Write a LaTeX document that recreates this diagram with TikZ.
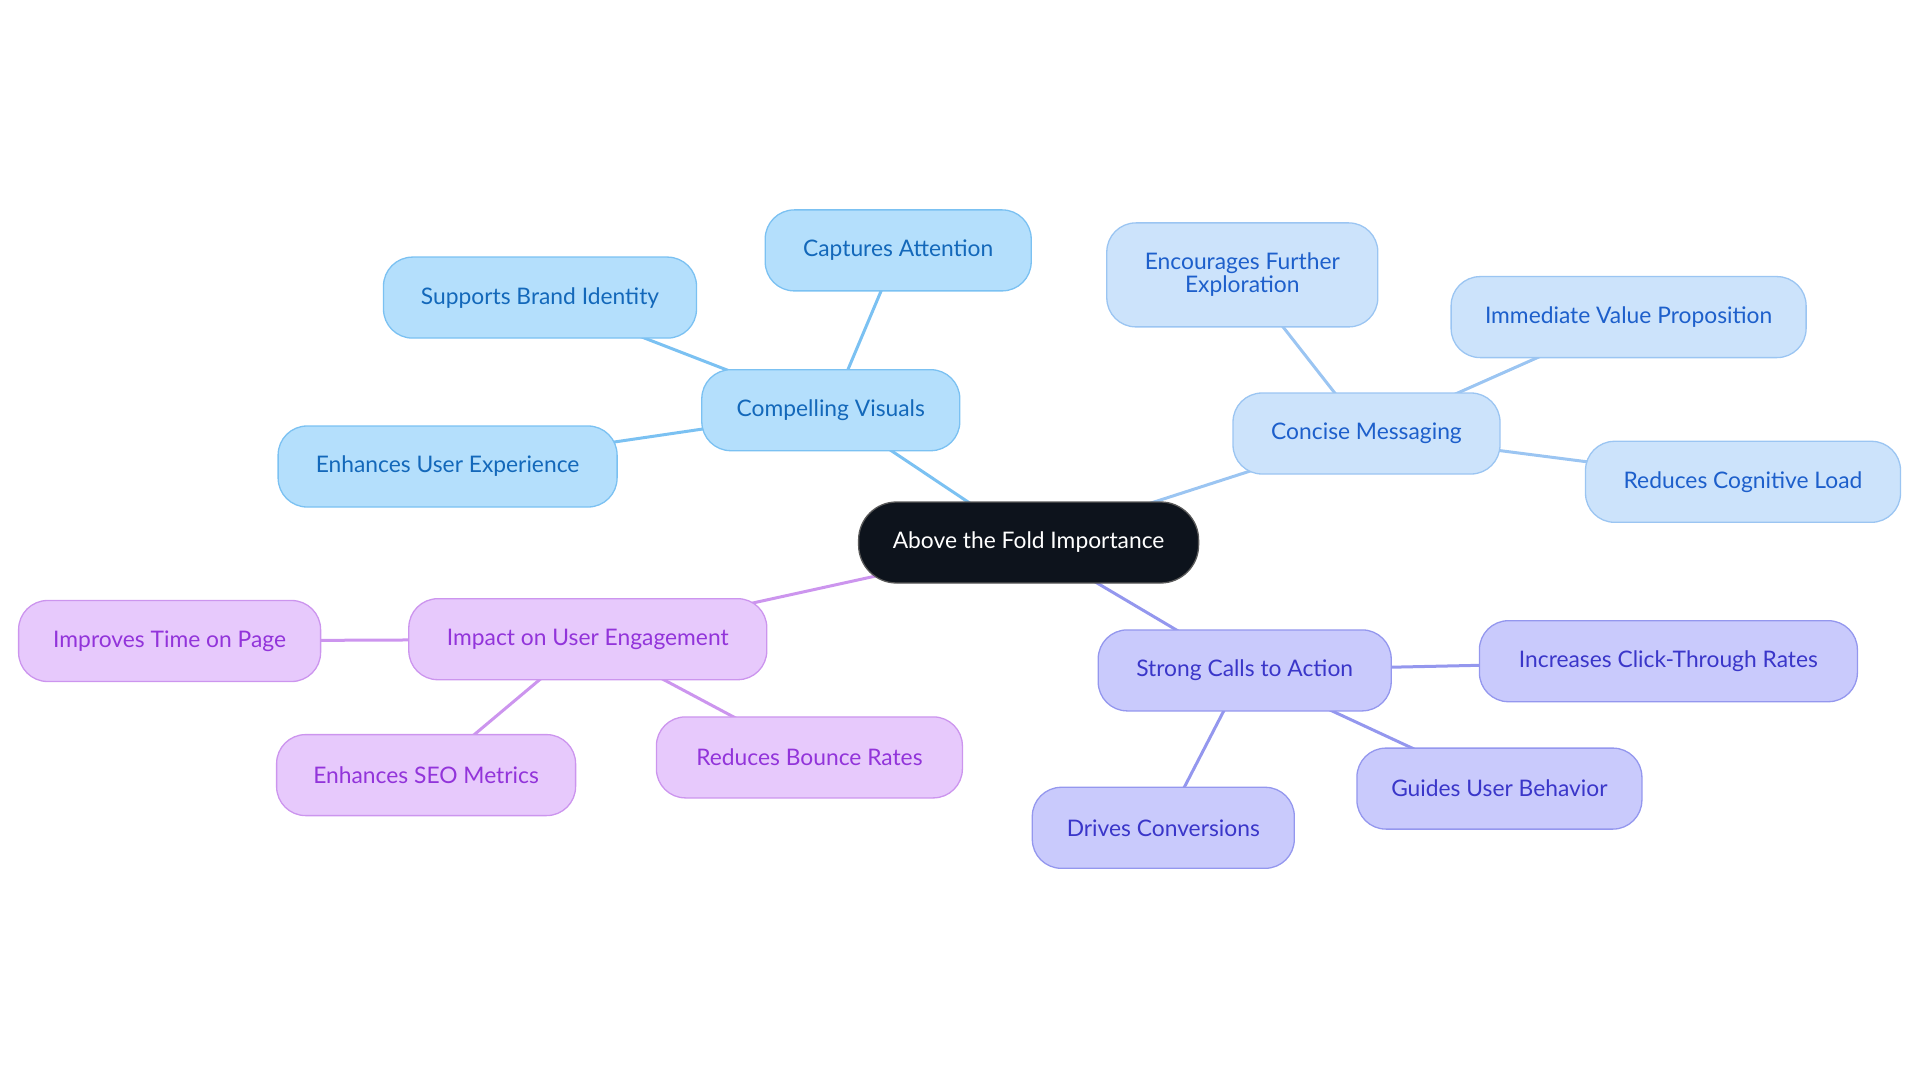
\documentclass[tikz,border=0pt]{standalone}
\usepackage{fontspec}
\setmainfont{Lato}
\usetikzlibrary{backgrounds}
\definecolor{cfill}{HTML}{0D131C}
\definecolor{bfill}{HTML}{B4DFFC}\definecolor{bdraw}{HTML}{7BC1F2}\definecolor{btext}{HTML}{1368BA}
\definecolor{mfill}{HTML}{CCE3FB}\definecolor{mdraw}{HTML}{9BC5F2}\definecolor{mtext}{HTML}{1D5FCB}
\definecolor{sfill}{HTML}{C9CAFC}\definecolor{sdraw}{HTML}{9497EE}\definecolor{stext}{HTML}{3A36C9}
\definecolor{ifill}{HTML}{E7C9FC}\definecolor{idraw}{HTML}{CC95EE}\definecolor{itext}{HTML}{9234DA}
\tikzset{
  base/.style={rounded corners=29pt, minimum height=81pt, inner sep=0pt, line width=1.3pt, align=center, font=\fontsize{22.8}{24}\selectfont},
  rootbox/.style={base, fill=cfill, draw=gray!70!black, text=white, rounded corners=38pt},
  bbox/.style={base, fill=bfill, draw=bdraw, text=btext},
  mbox/.style={base, fill=mfill, draw=mdraw, text=mtext},
  sbox/.style={base, fill=sfill, draw=sdraw, text=stext},
  ibox/.style={base, fill=ifill, draw=idraw, text=itext},
  bl/.style={line width=3pt, draw=bdraw},
  ml/.style={line width=3pt, draw=mdraw},
  sl/.style={line width=3pt, draw=sdraw},
  il/.style={line width=3pt, draw=idraw},
}
\begin{document}
\begin{tikzpicture}[x=1pt,y=1pt]
\useasboundingbox (0,0) rectangle (1920,-1083);
\node[rootbox, minimum width=340pt] (root) at (1028.6,-542.5) {Above the Fold Importance};
% blue branch
\node[bbox, minimum width=258pt] (cv) at (830.8,-410.2) {Compelling Visuals};
\node[bbox, minimum width=266pt] (ca) at (898.2,-250.4) {Captures Attention};
\node[bbox, minimum width=313pt] (sbi) at (540,-297.6) {Supports Brand Identity};
\node[bbox, minimum width=339pt] (eue) at (447.6,-466.5) {Enhances User Experience};
% messaging branch
\node[mbox, minimum width=267pt] (cm) at (1366.5,-433.5) {Concise Messaging};
\node[mbox, minimum width=271pt, minimum height=104pt] (efe) at (1242.3,-274.9) {Encourages Further\\[-1pt]Exploration};
\node[mbox, minimum width=355pt] (ivp) at (1628.6,-317.1) {Immediate Value Proposition};
\node[mbox, minimum width=315pt] (rcl) at (1743,-481.8) {Reduces Cognitive Load};
% action branch
\node[sbox, minimum width=293pt] (sca) at (1244.7,-670.4) {Strong Calls to Action};
\node[sbox, minimum width=378pt] (ictr) at (1668.4,-661.2) {Increases Click-Through Rates};
\node[sbox, minimum width=285pt] (gub) at (1499.4,-788.6) {Guides User Behavior};
\node[sbox, minimum width=262pt] (dc) at (1163.3,-827.8) {Drives Conversions};
% engagement branch
\node[ibox, minimum width=358pt] (iue) at (587.8,-639.2) {Impact on User Engagement};
\node[ibox, minimum width=302pt] (itp) at (169.6,-641) {Improves Time on Page};
\node[ibox, minimum width=299pt] (esm) at (426.1,-775.1) {Enhances SEO Metrics};
\node[ibox, minimum width=306pt] (rbr) at (809.4,-757.4) {Reduces Bounce Rates};
\begin{scope}[on background layer]
\draw[bl] (root.center) -- (cv.center);
\draw[bl] (cv.center) -- (ca.center);
\draw[bl] (cv.center) -- (sbi.center);
\draw[bl] (cv.center) -- (eue.center);
\draw[ml] (root.center) -- (cm.center);
\draw[ml] (cm.center) -- (efe.center);
\draw[ml] (cm.center) -- (ivp.center);
\draw[ml] (cm.center) -- (rcl.center);
\draw[sl] (root.center) -- (sca.center);
\draw[sl] (sca.center) -- (ictr.center);
\draw[sl] (sca.center) -- (gub.center);
\draw[sl] (sca.center) -- (dc.center);
\draw[il] (root.center) -- (iue.center);
\draw[il] (iue.center) -- (itp.center);
\draw[il] (iue.center) -- (esm.center);
\draw[il] (iue.center) -- (rbr.center);
\end{scope}
\end{tikzpicture}
\end{document}
